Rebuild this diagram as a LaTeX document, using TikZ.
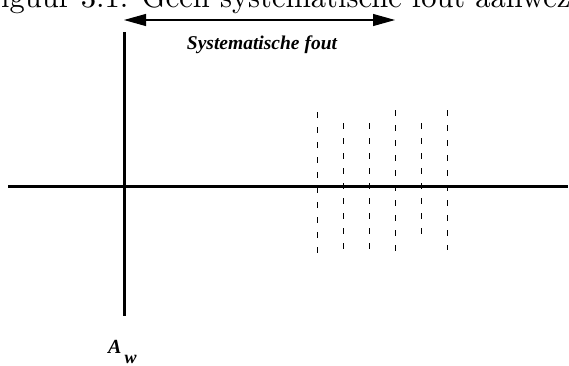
\documentclass[tikz,border=0pt]{standalone}
\usepackage{fontspec}
\usepackage{graphicx}
\newfontfamily\timesf{Liberation Serif}
\usetikzlibrary{arrows.meta}
\tikzset{
  axis/.style={line width=3pt},
  meas/.style={line width=0.9pt, dash pattern=on 6pt off 9pt},
  errarrow/.style={line width=1.1pt, {Triangle[length=22pt,width=12pt]}-{Triangle[length=22pt,width=12pt]}},
  lbl/.style={inner sep=0pt, font=\timesf\bfseries\itshape},
}
\begin{document}
\begin{tikzpicture}[x=1pt,y=-1pt]
\useasboundingbox (0,0) rectangle (569,365);
\begin{scope}
\clip (0,0) rectangle (569,365);
% clipped caption
\node[anchor=base west, inner sep=0pt] (cap) at (-19,7) {\scalebox{3.05}{\fontsize{10}{12}\selectfont Figuur 3.1: Geen systematische fout aanwezig}};
% axes
\draw[axis] (8,186.5) -- (568,186.5);
\draw[axis] (124,32) -- (124,316);
% measurement lines
\draw[meas] (317,112) -- (317,256);
\draw[meas] (343,123) -- (343,250);
\draw[meas] (369,123) -- (369,250);
\draw[meas] (395,110) -- (395,256);
\draw[meas] (421,123) -- (421,236);
\draw[meas] (447,110) -- (447,250);
% arrow
\coordinate (al) at (124,20);
\coordinate (ar) at (395,20);
\draw[errarrow] (al) -- (ar);
\node[lbl, font=\timesf\bfseries\itshape\fontsize{19.5}{22}\selectfont, anchor=base] (sys) at (262,49) {Systematische fout};
% A_w label
\node[lbl, font=\timesf\bfseries\itshape\fontsize{20}{22}\selectfont, anchor=base west] (A) at (108,353) {A};
\node[lbl, font=\timesf\bfseries\itshape\fontsize{18}{20}\selectfont, anchor=base west] (w) at (124.5,363) {w};
\end{scope}
\end{tikzpicture}
\end{document}
